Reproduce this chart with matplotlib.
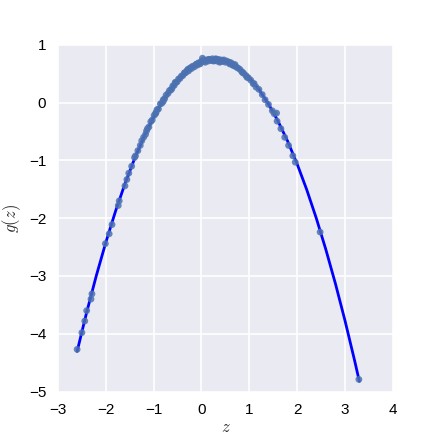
import matplotlib
matplotlib.use("Agg")
import matplotlib.pyplot as plt
import seaborn as sns

sns.set_style("darkgrid")
plt.rcParams['font.family'] = ['Liberation Sans', 'DejaVu Sans']
plt.rcParams['mathtext.fontset'] = 'cm'

# fitted curve g(z)
curve_z = [-2.6, -2.4, -2.2, -2.0, -1.8, -1.6, -1.4, -1.2, -1.0, -0.8, -0.6, -0.4, -0.2,
           0.0, 0.2, 0.4, 0.6, 0.8, 1.0, 1.2, 1.4, 1.6, 1.8, 2.0, 2.2, 2.4, 2.6, 2.8,
           3.0, 3.2, 3.3]
curve_g = [-4.305, -3.628, -2.998, -2.418, -1.886, -1.404, -0.971, -0.585, -0.249, 0.039,
           0.277, 0.466, 0.608, 0.700, 0.744, 0.738, 0.683, 0.581, 0.429, 0.229, -0.021,
           -0.320, -0.666, -1.062, -1.506, -2.000, -2.543, -3.133, -3.773, -4.461, -4.824]

# observed samples
pts_z = [-2.60, -2.50, -2.44, -2.40, -2.31, -2.29, -2.01, -1.93, -1.87, -1.74, -1.72,
         -1.60, -1.56, -1.52, -1.46, -1.40, -1.38, -1.33, -1.28, -1.25, -1.21, -1.17,
         -1.13, -1.10, -1.06, -1.03, -0.99, -0.96, -0.93, -0.90, -0.86, -0.83, -0.80,
         -0.77, -0.74, -0.70, -0.67, -0.64, -0.60, -0.57, -0.54, -0.51, -0.48, -0.45,
         -0.42, -0.39, -0.36, -0.33, -0.30, -0.27, -0.24, -0.21, -0.18, -0.15, -0.12,
         -0.09, -0.06, -0.03, 0.00, 0.02, 0.05, 0.08, 0.11, 0.14, 0.17, 0.20, 0.23,
         0.26, 0.29, 0.32, 0.35, 0.38, 0.41, 0.44, 0.47, 0.50, 0.53, 0.56, 0.59, 0.62,
         0.65, 0.68, 0.72, 0.76, 0.80, 0.84, 0.88, 0.93, 0.98, 1.03, 1.08, 1.14, 1.20,
         1.27, 1.33, 1.40, 1.48, 1.52, 1.57, 1.58, 1.66, 1.74, 1.82, 1.91, 1.96, 2.48,
         3.29,
         -0.95, -0.62, -0.35, -0.10, 0.10, 0.30, 0.45, 0.66, 0.86, 1.10, -0.20, 0.25,
         0.58, -1.15, 0.04, 0.36, -0.80, -0.55, -0.28, 0.15, 0.40, 0.70, 0.95, -0.05]
pts_g = [-4.27, -3.98, -3.78, -3.60, -3.40, -3.31, -2.44, -2.27, -2.11, -1.78, -1.70,
         -1.44, -1.33, -1.22, -1.10, -0.95, -0.92, -0.83, -0.74, -0.66, -0.60, -0.55,
         -0.45, -0.42, -0.33, -0.30, -0.22, -0.19, -0.12, -0.11, -0.02, -0.01, 0.05,
         0.07, 0.13, 0.16, 0.21, 0.22, 0.29, 0.30, 0.35, 0.36, 0.41, 0.42,
         0.46, 0.47, 0.51, 0.52, 0.56, 0.55, 0.60, 0.59, 0.63, 0.62, 0.66,
         0.65, 0.69, 0.67, 0.72, 0.77, 0.74, 0.70, 0.74, 0.72, 0.75, 0.73, 0.76,
         0.73, 0.75, 0.72, 0.75, 0.70, 0.74, 0.72, 0.74, 0.70, 0.72, 0.70, 0.67, 0.69,
         0.65, 0.64, 0.62, 0.60, 0.58, 0.54, 0.51, 0.47, 0.43, 0.39, 0.33, 0.27, 0.23,
         0.14, 0.05, -0.03, -0.14, -0.19, -0.18, -0.32, -0.45, -0.60, -0.74, -0.92, -1.03,
         -2.24, -4.79,
         -0.17, 0.24, 0.52, 0.67, 0.73, 0.76, 0.72, 0.66, 0.52, 0.33, 0.62, 0.72,
         0.70, -0.49, 0.71, 0.73, 0.02, 0.35, 0.58, 0.75, 0.71, 0.66, 0.44, 0.68]

fig = plt.figure(figsize=(4.36, 4.36), dpi=100)
ax = fig.add_axes([0.133, 0.102, 0.768, 0.795])
ax.plot(curve_z, curve_g, color='blue', lw=2.0, zorder=2)
ax.scatter(pts_z, pts_g, s=24, color='#4C72B0', alpha=0.85, edgecolors='none', zorder=3)

ax.set_xlim(-3, 4)
ax.set_ylim(-5, 1)
ax.set_xticks(range(-3, 5))
ax.set_yticks(range(-5, 2))
ax.tick_params(labelsize=11, colors='black', pad=5)
ax.set_xlabel('$z$', fontsize=12, labelpad=2)
ax.set_ylabel('$g(z)$', fontsize=12, labelpad=4)
ax.grid(True, color='white', lw=1.2)
for s in ax.spines.values():
    s.set_visible(False)

fig.savefig('out.png', dpi=100)
